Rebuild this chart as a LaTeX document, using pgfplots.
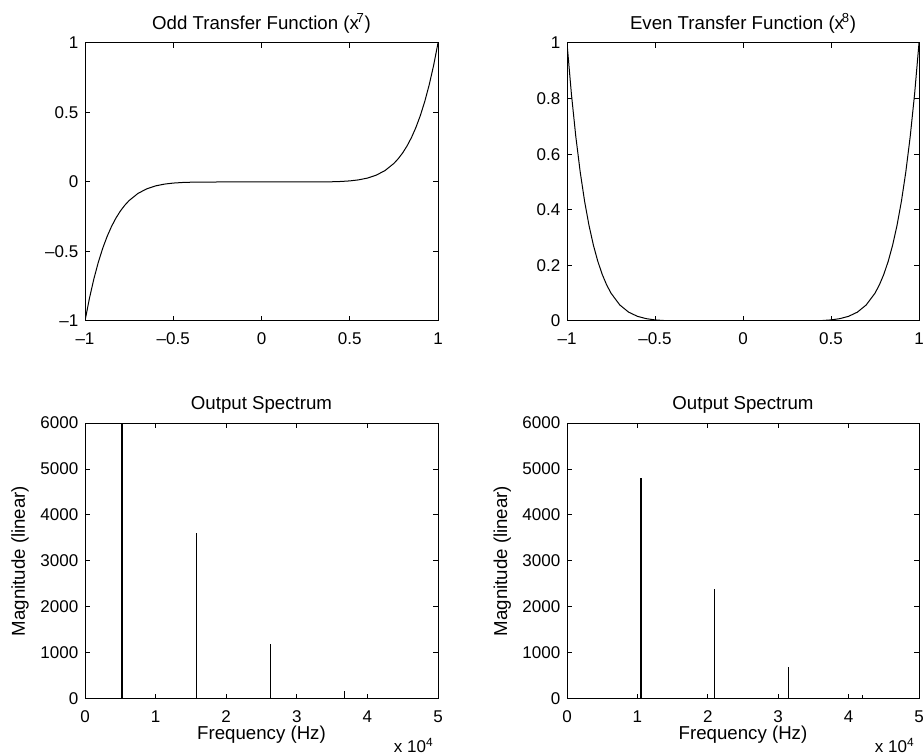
\documentclass[border=0pt]{standalone}
\usepackage{fontspec}
\setmainfont{Liberation Sans}
\usepackage{pgfplots}
\usepackage{pgfplotstable}
\pgfplotsset{compat=1.18}

% transfer functions y = x^7 and y = x^8 sampled on [-1,1]
\pgfplotstableread{
x       odd         even
-1      -1          1
-0.975  -0.837591   0.816652
-0.95   -0.6983373  0.6634204
-0.925  -0.579418   0.535962
-0.9    -0.4782969  0.4304672
-0.875  -0.392696   0.343609
-0.85   -0.3205771  0.2724905
-0.825  -0.260122   0.214601
-0.8    -0.2097152  0.1677722
-0.775  -0.167923   0.130141
-0.75   -0.1334839  0.1001129
-0.7    -0.0823543  0.057648
-0.65   -0.0490222  0.0318645
-0.6    -0.0279936  0.0167962
-0.55   -0.0152243  0.0083734
-0.5    -0.0078125  0.0039063
-0.45   -0.0037367  0.0016815
-0.4    -0.0016384  0.0006554
-0.35   -0.0006434  0.0002252
-0.3    -0.0002187  0.0000656
-0.25   -0.0000610  0.0000153
-0.2    -0.0000128  0.0000026
-0.15   -0.0000017  0.0000003
-0.1    -0.0000001  0.0000000
-0.05   0           0
0       0           0
0.05    0           0
0.1     0.0000001   0.0000000
0.15    0.0000017   0.0000003
0.2     0.0000128   0.0000026
0.25    0.0000610   0.0000153
0.3     0.0002187   0.0000656
0.35    0.0006434   0.0002252
0.4     0.0016384   0.0006554
0.45    0.0037367   0.0016815
0.5     0.0078125   0.0039063
0.55    0.0152243   0.0083734
0.6     0.0279936   0.0167962
0.65    0.0490222   0.0318645
0.7     0.0823543   0.057648
0.75    0.1334839   0.1001129
0.775   0.167923    0.130141
0.8     0.2097152   0.1677722
0.825   0.260122    0.214601
0.85    0.3205771   0.2724905
0.875   0.392696    0.343609
0.9     0.4782969   0.4304672
0.925   0.579418    0.535962
0.95    0.6983373   0.6634204
0.975   0.837591    0.816652
1       1           1
}\transfer

% output spectra (Hz, linear magnitude)
\pgfplotstableread{
f      mag
5250   6000
15750  3600
26250  1200
36750  165
}\oddspec

\pgfplotstableread{
f      mag
10500  4800
21000  2400
31500  686
42000  86
}\evenspec

\pgfplotsset{
  matlab/.style={
    scale only axis,
    anchor=south west,
    axis line style={line width=0.75pt},
    every tick/.style={line width=0.75pt, black},
    major tick length=3.5pt,
    tick align=inside,
    xtick pos=both, ytick pos=both,
    tick label style={font=\fontsize{12.75}{14}\selectfont},
    xticklabel style={yshift=-5pt},
    yticklabel style={xshift=-1.5pt},
    title style={font=\fontsize{14}{16}\selectfont, at={(axis description cs:0.5,1)}, anchor=base, yshift=4pt},
    label style={font=\fontsize{14}{16}\selectfont},
    xlabel style={at={(axis description cs:0.5,0)}, anchor=center, yshift=-27pt},
    ylabel style={at={(axis description cs:-0.184,0.5)}, anchor=center},
    scaled ticks=false,
  },
  spec/.style={
    matlab,
    width=264.75pt, height=207pt,
    xmin=0, xmax=50000, ymin=0, ymax=6000,
    xtick={0,10000,20000,30000,40000,50000},
    xticklabels={0,1,2,3,4,5},
    ytick={0,1000,2000,3000,4000,5000,6000},
    yticklabels={0,1000,2000,3000,4000,5000,6000},
    title={Output Spectrum},
    xlabel={Frequency (Hz)},
    ylabel={Magnitude (linear)},
  },
}

\begin{document}
\begin{tikzpicture}
\useasboundingbox (0,0) rectangle (693pt,566.25pt);

\begin{axis}[matlab, at={(63.75pt,325.5pt)},
  width=264.75pt, height=208.5pt,
  xmin=-1, xmax=1, ymin=-1, ymax=1,
  xtick={-1,-0.5,0,0.5,1}, xticklabels={--1,--0.5,0,0.5,1},
  ytick={-1,-0.5,0,0.5,1}, yticklabels={--1,--0.5,0,0.5,1},
  title={Odd Transfer Function (x\kern-0.12em\textsuperscript{7})}]
  \addplot[black, line width=0.75pt] table[x=x, y=odd] {\transfer};
\end{axis}

\begin{axis}[matlab, at={(425.25pt,325.5pt)},
  width=264pt, height=208.5pt,
  xmin=-1, xmax=1, ymin=0, ymax=1,
  xtick={-1,-0.5,0,0.5,1}, xticklabels={--1,--0.5,0,0.5,1},
  ytick={0,0.2,0.4,0.6,0.8,1}, yticklabels={0,0.2,0.4,0.6,0.8,1},
  title={Even Transfer Function (x\kern-0.12em\textsuperscript{8})}]
  \addplot[black, line width=0.75pt] table[x=x, y=even] {\transfer};
\end{axis}

\begin{axis}[spec, name=bl, at={(63.75pt,42pt)}]
  \addplot[black, line width=0.9pt, ycomb] table[x=f, y=mag] {\oddspec};
\end{axis}
\node[anchor=base east, font=\fontsize{12.75}{14}\selectfont]
  at ([yshift=-40pt]bl.south east) {x 10\textsuperscript{4}};

\begin{axis}[spec, name=br, at={(425.25pt,42pt)}, width=264pt]
  \addplot[black, line width=0.9pt, ycomb] table[x=f, y=mag] {\evenspec};
\end{axis}
\node[anchor=base east, font=\fontsize{12.75}{14}\selectfont]
  at ([yshift=-40pt]br.south east) {x 10\textsuperscript{4}};
\end{tikzpicture}
\end{document}
